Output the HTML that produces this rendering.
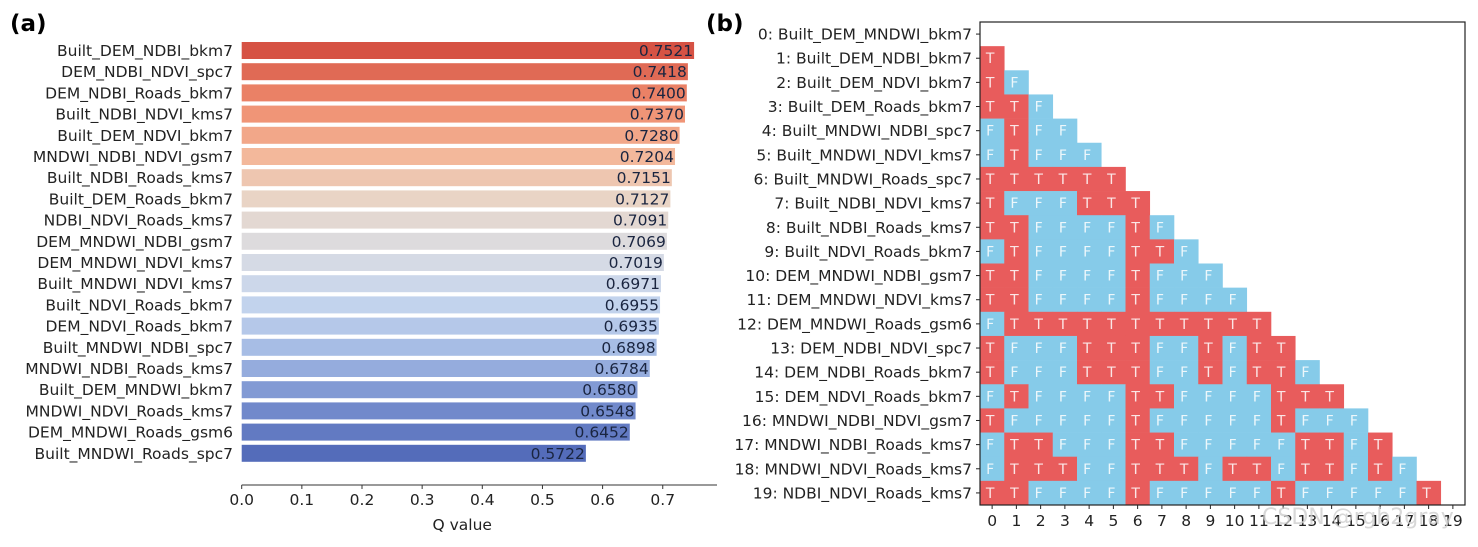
<!DOCTYPE html>
<html><head><meta charset="utf-8"><style>
body{margin:0;background:#fff;width:1478px;height:542px;overflow:hidden}
svg text{font-family:"DejaVu Sans","Liberation Sans",sans-serif}
</style></head><body>
<svg id="s" width="1478" height="542">
<text x="10" y="31" font-size="23" font-weight="bold">(a)</text>
<text x="706" y="31" font-size="23" font-weight="bold">(b)</text>
<g id="a"></g>
<g id="b"></g>
<text x="1262" y="524" font-size="22" fill="#cfcfcf" opacity="0.8">CSDN @rgb2gray</text>
</svg>
<script>
const categories=["Built_DEM_NDBI_bkm7","DEM_NDBI_NDVI_spc7","DEM_NDBI_Roads_bkm7","Built_NDBI_NDVI_kms7","Built_DEM_NDVI_bkm7","MNDWI_NDBI_NDVI_gsm7","Built_NDBI_Roads_kms7","Built_DEM_Roads_bkm7","NDBI_NDVI_Roads_kms7","DEM_MNDWI_NDBI_gsm7","DEM_MNDWI_NDVI_kms7","Built_MNDWI_NDVI_kms7","Built_NDVI_Roads_bkm7","DEM_NDVI_Roads_bkm7","Built_MNDWI_NDBI_spc7","MNDWI_NDBI_Roads_kms7","Built_DEM_MNDWI_bkm7","MNDWI_NDVI_Roads_kms7","DEM_MNDWI_Roads_gsm6","Built_MNDWI_Roads_spc7"];
const qValues=[0.7521,0.7418,0.7400,0.7370,0.7280,0.7204,0.7151,0.7127,0.7091,0.7069,0.7019,0.6971,0.6955,0.6935,0.6898,0.6784,0.6580,0.6548,0.6452,0.5722];
const xTicks=[0,0.1,0.2,0.3,0.4,0.5,0.6,0.7];
const matrixLabels=["0: Built_DEM_MNDWI_bkm7","1: Built_DEM_NDBI_bkm7","2: Built_DEM_NDVI_bkm7","3: Built_DEM_Roads_bkm7","4: Built_MNDWI_NDBI_spc7","5: Built_MNDWI_NDVI_kms7","6: Built_MNDWI_Roads_spc7","7: Built_NDBI_NDVI_kms7","8: Built_NDBI_Roads_kms7","9: Built_NDVI_Roads_bkm7","10: DEM_MNDWI_NDBI_gsm7","11: DEM_MNDWI_NDVI_kms7","12: DEM_MNDWI_Roads_gsm6","13: DEM_NDBI_NDVI_spc7","14: DEM_NDBI_Roads_bkm7","15: DEM_NDVI_Roads_bkm7","16: MNDWI_NDBI_NDVI_gsm7","17: MNDWI_NDBI_Roads_kms7","18: MNDWI_NDVI_Roads_kms7","19: NDBI_NDVI_Roads_kms7"];
const matrixRows=["","T","TF","TTF","FTFF","FTFFF","TTTTTT","TFFFTTT","TTFFFFTF","FTFFFFTTF","TTFFFFTFFF","TTFFFFTFFFF","FTTTTTTTTTTT","TFFFTTTFFTFTT","TFFFTTTFFTFTTF","FTFFFFTTFFFFTTT","TFFFFFTFFFFFTFFF","FTTFFFTTFFFFFTTFT","FTTTFFTTTFTTFTTFTF","TTFFFFTFFFFFTFFFFFT"];
const NS="http://www.w3.org/2000/svg";
const FS=15.5;
function mk(p,t,at,txt){const e=document.createElementNS(NS,t);for(const k in at)e.setAttribute(k,at[k]);if(txt!==undefined)e.textContent=txt;p.appendChild(e);return e;}
const A=document.getElementById('a');
const x0=241.7,xs=601.5,axY=485,barTop=42,pitch=21.2,barH=17;
const X=v=>x0+v*xs;
const stops=[[214,82,68],[238,138,108],[244,180,150],[232,214,200],[218,220,226],[196,212,238],[164,186,228],[118,142,206],[84,108,186]];
function col(i){const t=i/(categories.length-1)*(stops.length-1);const k=Math.min(Math.floor(t),stops.length-2),f=t-k;const c=stops[k].map((v,j)=>Math.round(v+(stops[k+1][j]-v)*f));return `rgb(${c})`;}
categories.forEach((c,i)=>{const y=barTop+i*pitch;
const r=mk(A,'rect',{x:X(0),y:y,width:X(qValues[i])-X(0),height:barH,fill:col(i)});


const l=mk(A,'text',{x:233,y:y+barH/2+5.5,'font-size':FS,'text-anchor':'end',fill:'#222'},c);


const v=mk(A,'text',{x:X(qValues[i])-1,y:y+barH/2+5.5,'font-size':FS,'text-anchor':'end',fill:'#1a2540'},qValues[i].toFixed(4));

});
const ax=mk(A,'line',{x1:X(0),x2:717,y1:axY,y2:axY,stroke:'#333','stroke-width':1});


xTicks.forEach(t=>{mk(A,'line',{x1:X(t),x2:X(t),y1:axY,y2:axY+4,stroke:'#333'});
const tl=mk(A,'text',{x:X(t),y:axY+20,'font-size':FS,'text-anchor':'middle',fill:'#222'},t.toFixed(1));

});
const xt=mk(A,'text',{x:X(0.35)+10,y:530,'font-size':FS,'text-anchor':'middle',fill:'#222'},'Q value');


const B=document.getElementById('b');
const mx=980,my=22,cw=24.25,ch=24.15,n=20;
matrixRows.forEach((row,r)=>{[...row].forEach((v,c)=>{
const cell=mk(B,'rect',{x:mx+c*cw,y:my+r*ch,width:cw+0.3,height:ch+0.3,fill:v==='T'?'#e85c5c':'#86cbe9'});


mk(B,'text',{x:mx+c*cw+cw/2-2,y:my+r*ch+ch/2+5,'font-size':14,'text-anchor':'middle',fill:'#fff',opacity:0.85},v);});});
const fr=mk(B,'rect',{x:mx,y:my,width:n*cw,height:n*ch,fill:'none',stroke:'#222','stroke-width':1.2});


matrixLabels.forEach((l,i)=>{const y=my+i*ch+ch/2;
mk(B,'line',{x1:mx-4,x2:mx,y1:y,y2:y,stroke:'#222'});
const t=mk(B,'text',{x:mx-8,y:y+5.5,'font-size':FS,'text-anchor':'end',fill:'#222'},l);


const x=mx+i*cw+cw/2;
mk(B,'line',{x1:x,x2:x,y1:my+n*ch,y2:my+n*ch+4,stroke:'#222'});
const c=mk(B,'text',{x:x,y:my+n*ch+21,'font-size':FS,'text-anchor':'middle',fill:'#222'},String(i));

});
</script>
</body></html>
